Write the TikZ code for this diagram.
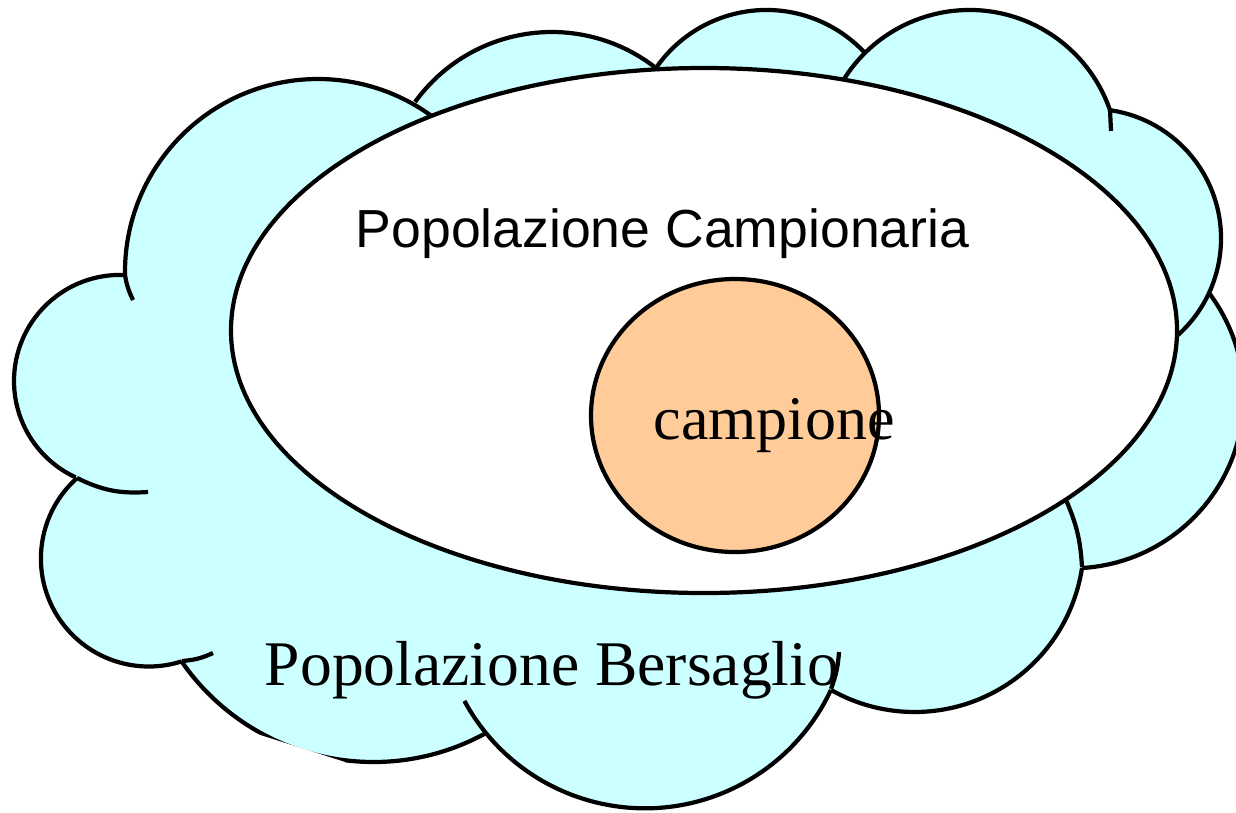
\documentclass[tikz,border=0pt]{standalone}
\usepackage{fontspec}
\setmainfont{Liberation Serif}
\newfontfamily\arialfont{Liberation Sans}
\definecolor{cloudcyan}{HTML}{CCFFFF}
\definecolor{sampleorange}{HTML}{FFCC99}

\begin{document}
\begin{tikzpicture}[x = 0.02cm, y = -0.02cm, line join = round, line width = 2.4pt,
  cloud/.style = {fill = cloudcyan},
  label text/.style = {anchor = base, inner sep = 0pt}]
\useasboundingbox (0, 0) rectangle (1236, 812);

% joints where two bumps of the cloud meet
\coordinate (AB) at (125, 275);
\coordinate (BC) at (77, 478);
\coordinate (CD) at (182, 661);
\coordinate (EF) at (831, 689);
\coordinate (FG) at (1082, 567);
\coordinate (IH) at (1110, 110);
% free ends of the inner strokes
\coordinate (s1) at (133, 300);
\coordinate (s2) at (148, 492);
\coordinate (s3) at (213, 653);
\coordinate (s5) at (839, 652);
\coordinate (s6) at (1066, 500);
\coordinate (s8) at (1111, 131);

% bumps: centre x / centre y / radius / first angle / last angle
\foreach \cx/\cy/\r/\a/\b in {318/272/193/179.1/315, 551.8/200.6/168.6/215.8/320,
    766.5/144.2/134.2/200/317.2, 969.5/158.6/148.6/205/340.9,
    1091.3/238.5/129.7/-81.7/55, 1071.9/396.5/171.8/86.6/-37.1,
    914.5/542.6/169.4/119.5/8.6, 644.9/602.9/205.4/151.5/25.1,
    373.4/528.8/233.2/145.2/61.1, 148.8/558.6/107.9/228.3/72.2,
    120.1/381/106.1/272.7/114.8}{
  \fill[cloud] (\cx, \cy) circle [radius = \r];
}
\fill[cloud] (318, 272) -- (551.8, 200.6) -- (766.5, 144.2) -- (969.5, 158.6)
  -- (1091.3, 238.5) -- (1071.9, 396.5) -- (914.5, 542.6) -- (644.9, 602.9)
  -- (373.4, 528.8) -- (148.8, 558.6) -- (120.1, 381) -- cycle;

\foreach \cx/\cy/\r/\a/\b in {318/272/193/179.1/315, 551.8/200.6/168.6/215.8/320,
    766.5/144.2/134.2/200/317.2, 969.5/158.6/148.6/205/340.9,
    1091.3/238.5/129.7/-81.7/55, 1071.9/396.5/171.8/86.6/-37.1,
    914.5/542.6/169.4/119.5/8.6, 644.9/602.9/205.4/151.5/25.1,
    373.4/528.8/233.2/145.2/61.1, 148.8/558.6/107.9/228.3/72.2,
    120.1/381/106.1/272.7/114.8}{
  \draw (\cx, \cy) ++(\a:\r) arc [start angle = \a, end angle = \b, radius = \r];
}

\draw (AB) to[bend right = 8] (s1);
\draw (BC) to[bend right = 15] (s2);
\draw (CD) to[bend right = 10] (s3);
\draw (EF) to[bend right = 8] (s5);
\draw (FG) to[bend right = 10] (s6);
\draw (IH) -- (s8);
\fill[white] (257, 734) -- (345, 762) -- (345, 775) -- (257, 775) -- cycle;

\draw[fill = white] (704, 330.5) ellipse [x radius = 473, y radius = 262.5];
\draw[fill = sampleorange] (735, 415.5) ellipse [x radius = 144, y radius = 136.5];

\node[label text, font = \arialfont\fontsize{30.5}{36}\selectfont] (campionaria)
  at (662.5, 247) {Popolazione Campionaria};
\node[label text, font = \fontsize{35.3}{42}\selectfont] (campione)
  at (774, 439) {campione};
\node[label text, font = \fontsize{36.2}{42}\selectfont] (bersaglio)
  at (552, 685) {Popolazione Bersaglio};
\end{tikzpicture}
\end{document}
